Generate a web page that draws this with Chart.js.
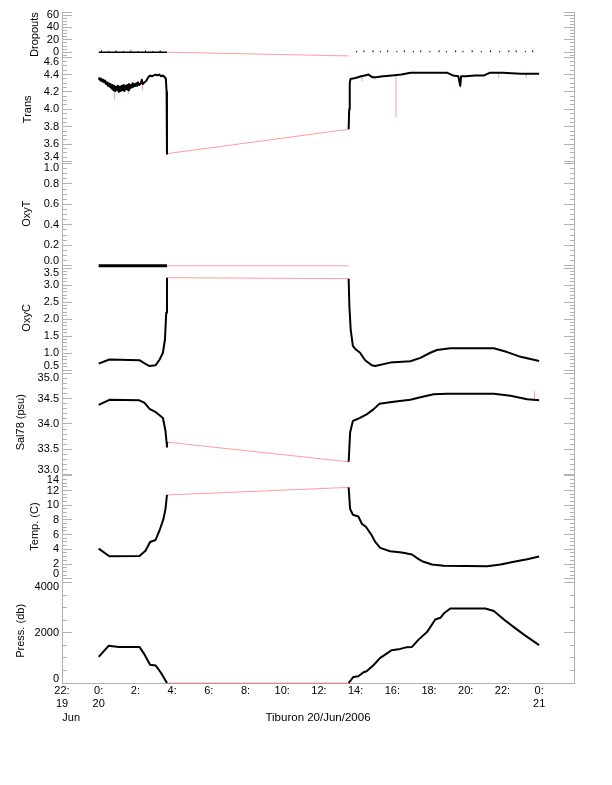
<!DOCTYPE html>
<html>
<head>
<meta charset="utf-8">
<script src="https://cdn.jsdelivr.net/npm/chart.js@4.4.1/dist/chart.umd.min.js"></script>
<style>
  html, body { margin: 0; padding: 0; background: #fff; }
  canvas { display: block; }
</style>
</head>
<body>
<canvas id="c" width="612" height="785"></canvas>
<script>
// time is in hours since 20/Jun/2006 00:00
var xTickHours = [-2, 0, 2, 4, 6, 8, 10, 12, 14, 16, 18, 20, 22, 24];
var xTickLabels = [['22:', '19', '      Jun'], ['0:', '20'], '2:', '4:', '6:', '8:', '10:', '12:',
                   '14:', '16:', '18:', '20:', '22:', ['0:', '21']];

// gap in the record, bridged by the red raw line
var gapHours = [3.72, 13.62];

// Dropouts
var dropHours = [0, 3.72, 13.62, 24.0];
var dropCounts = [0, 0, 0, 0];
var dropSpikeHours = [0.15, 0.55, 0.95, 1.35, 1.75, 2.15, 2.55, 2.95, 3.35,
                      14.05, 14.45, 14.95, 15.35, 15.75, 16.25, 16.65, 17.15, 17.55, 18.05,
                      18.55, 18.95, 19.45, 19.85, 20.35, 20.85, 21.35, 21.85, 22.35, 22.75,
                      23.25, 23.65];
var dropSpikeCounts = [3, 2, 3, 2, 3, 2, 3, 2, 3,
                       2, 3, 3, 2, 3, 2, 3, 2, 3, 2,
                       3, 2, 3, 2, 3, 2, 3, 2, 3, 3,
                       2, 3];
var dropGap = [0, -6];

// Trans
var transHours = [0.00, 0.05, 0.10, 0.15, 0.20, 0.25, 0.30, 0.35, 0.40, 0.45,
                  0.50, 0.55, 0.60, 0.65, 0.70, 0.75, 0.80, 0.85, 0.90, 0.95,
                  1.00, 1.05, 1.10, 1.15, 1.20, 1.25, 1.30, 1.35, 1.40, 1.45,
                  1.50, 1.55, 1.60, 1.65, 1.70, 1.75, 1.80, 1.85, 1.90, 1.95,
                  2.00, 2.05, 2.10, 2.15, 2.20, 2.30, 2.35, 2.40, 2.50, 2.60,
                  2.70, 2.80, 2.90, 3.00, 3.10, 3.20, 3.30, 3.40, 3.50, 3.60,
                  3.66, 3.70, 3.72, 13.62, 13.65, 13.68, 13.72, 14.00, 14.30, 14.50,
                  14.70, 14.90, 15.10, 15.50, 16.00, 16.50, 17.00, 18.00, 19.00, 19.30,
                  19.60, 19.70, 19.75, 20.00, 20.50, 21.00, 21.30, 22.00, 23.00, 24.00];
var transValues = [4.34, 4.36, 4.33, 4.35, 4.32, 4.34, 4.31, 4.33, 4.29, 4.31,
                   4.27, 4.30, 4.26, 4.29, 4.24, 4.28, 4.22, 4.27, 4.21, 4.26,
                   4.22, 4.27, 4.20, 4.26, 4.21, 4.27, 4.22, 4.28, 4.21, 4.27,
                   4.23, 4.28, 4.22, 4.29, 4.24, 4.28, 4.25, 4.30, 4.26, 4.29,
                   4.27, 4.30, 4.27, 4.31, 4.28, 4.30, 4.34, 4.29, 4.31, 4.33,
                   4.37, 4.39, 4.38, 4.39, 4.40, 4.39, 4.40, 4.38, 4.39, 4.37,
                   4.35, 4.20, 3.49, 3.77, 4.00, 4.30, 4.35, 4.36, 4.38, 4.39,
                   4.40, 4.37, 4.37, 4.38, 4.39, 4.40, 4.42, 4.42, 4.42, 4.39,
                   4.38, 4.27, 4.38, 4.38, 4.39, 4.39, 4.42, 4.42, 4.41, 4.41];
var transSpikeHours = [0.87, 1.62, 2.38, 14.35, 15.05, 16.20, 19.72, 21.80, 23.30];
var transSpikeLow = [4.11, 4.18, 4.22, 4.32, 4.34, 3.91, 4.24, 4.36, 4.36];
var transSpikeHigh = [4.26, 4.28, 4.30, 4.38, 4.38, 4.39, 4.38, 4.41, 4.41];
var transGap = [3.49, 3.77];

// OxyT
var oxytHours = [0, 3.72, 13.62, 24.0];
var oxytValues = [0, 0, 0, 0];
var oxytGap = [0, 0];

// OxyC
var oxycHours = [0, 0.58, 2.22, 2.5, 2.77, 3.1, 3.32, 3.5, 3.61, 3.68,
                 3.72, 13.62, 13.66, 13.73, 13.85, 13.97, 14.24, 14.52, 14.88, 15.07,
                 15.88, 16.98, 17.53, 18.07, 18.43, 19.16, 21.53, 22.26, 22.99, 24.0];
var oxycValues = [0.69, 0.81, 0.79, 0.70, 0.62, 0.64, 0.81, 1.01, 1.40, 2.19,
                  3.22, 3.19, 2.38, 1.70, 1.21, 1.13, 1.01, 0.79, 0.64, 0.62,
                  0.72, 0.76, 0.86, 1.01, 1.09, 1.14, 1.14, 1.03, 0.89, 0.77];
var oxycGap = [3.22, 3.19];

// Sal78
var salHours = [0, 0.58, 2.22, 2.5, 2.77, 3.13, 3.5, 3.64, 3.72, 3.73,
                13.62, 13.7, 13.85, 14.24, 14.6, 14.97, 15.3, 16.07, 16.98, 17.53,
                18.25, 18.98, 21.53, 22.44, 23.35, 24.0];
var salValues = [34.38, 34.48, 34.47, 34.42, 34.30, 34.23, 34.12, 33.86, 33.55, 33.64,
                 33.25, 33.83, 34.06, 34.12, 34.19, 34.29, 34.40, 34.44, 34.48, 34.53,
                 34.59, 34.60, 34.60, 34.56, 34.49, 34.47];
var salSpikeHours = [23.75];
var salSpikeLow = [34.47];
var salSpikeHigh = [34.65];
var salGap = [33.64, 33.25];

// Temp
var tempHours = [0, 0.58, 2.22, 2.55, 2.8, 3.1, 3.32, 3.53, 3.64, 3.72,
                 13.62, 13.7, 13.85, 14.15, 14.34, 14.57, 14.88, 15.07, 15.34, 15.88,
                 16.52, 17.07, 17.43, 17.7, 18.16, 18.8, 21.17, 21.9, 22.62, 23.35, 24.0];
var tempValues = [4.1, 3.06, 3.1, 3.8, 5.0, 5.27, 6.6, 8.15, 9.5, 11.4,
                  12.43, 9.5, 8.7, 8.47, 7.48, 7.03, 5.9, 5.0, 4.19, 3.74,
                  3.56, 3.29, 2.66, 2.3, 1.94, 1.76, 1.71, 1.94, 2.3, 2.66, 3.02];
var tempGap = [11.4, 12.43];

// Press
var pressHours = [0, 0.55, 1.09, 2.22, 2.5, 2.8, 3.1, 3.4, 3.72,
                  13.62, 13.88, 14.15, 14.43, 14.6, 14.97, 15.34, 15.61, 15.97, 16.43,
                  16.8, 17.07, 17.43, 17.89, 18.34, 18.62, 18.8, 19.16, 21.07, 21.53,
                  22.08, 22.62, 23.17, 24.0];
var pressValues = [1040, 1490, 1440, 1440, 1130, 730, 700, 400, 0,
                   0, 240, 270, 430, 470, 710, 1000, 1130, 1310, 1360,
                   1430, 1440, 1730, 2030, 2530, 2600, 2770, 2970, 2970, 2870,
                   2530, 2230, 1930, 1510];
var pressGap = [0, 0];

var FONT = "'Liberation Sans', Arial, sans-serif";
var GRAY = '#b2b2b2';
var RED = 'rgba(255, 60, 60, 0.5)';

var panels = [
    {id: 'drop',  title: 'Dropouts',    min: -8,  max: 65,    major: 20,   minor: 5,    dec: 0, weight: 0.433, titleGap: 28},
    {id: 'trans', title: 'Trans',       min: 3.4, max: 4.6,   major: 0.2,  minor: 0.05, dec: 1, weight: 1, titleGap: 21},
    {id: 'oxyt',  title: 'OxyT',        min: 0,   max: 1.02,  major: 0.2,  minor: 0.05, dec: 1, weight: 1, titleGap: 20},
    {id: 'oxyc',  title: 'OxyC',        min: 0.5, max: 3.57,  major: 0.5,  minor: 0.1,  dec: 1, weight: 1, titleGap: 20},
    {id: 'sal',   title: 'Sal78 (psu)', min: 33,  max: 35.07, major: 0.5,  minor: 0.1,  dec: 1, weight: 1, titleGap: 14.5},
    {id: 'temp',  title: 'Temp. (C)',   min: 0,   max: 14.2,  major: 2,    minor: 0.5,  dec: 0, weight: 1, titleGap: 28},
    {id: 'press', title: 'Press. (db)', min: 0,   max: 4160,  major: 2000, minor: 500,  dec: 0, weight: 1, titleGap: 14.5}
];

function series(hours, values) {
    var pts = [];
    for (var i = 0; i < hours.length; i++) {
        if (i > 0 && hours[i] - hours[i - 1] > 5) {
            pts.push({x: (hours[i] + hours[i - 1]) / 2, y: null});
        }
        pts.push({x: hours[i], y: values[i]});
    }
    return pts;
}

// each spike is its own little sub-path (low -> high), split by a null point
function spikes(hours, lows, highs) {
    var pts = [];
    for (var i = 0; i < hours.length; i++) {
        pts.push({x: hours[i], y: lows[i]});
        pts.push({x: hours[i], y: highs[i]});
        pts.push({x: hours[i], y: null});
    }
    return pts;
}

function tickValues(p) {
    var vals = [p.min, p.max];
    var v = Math.ceil(p.min / p.minor - 1e-9) * p.minor;
    for (; v <= p.max + 1e-9; v += p.minor) {
        vals.push(Math.round(v * 10000) / 10000);
    }
    vals.sort(function (a, b) { return a - b; });
    return vals.filter(function (x, i) { return i == 0 || Math.abs(x - vals[i - 1]) > 1e-6; });
}

function isLabelled(p, v) {
    var r = v / p.major;
    return Math.abs(r - Math.round(r)) < 1e-6;
}

function isLong(p, v) {
    return isLabelled(p, v) || Math.abs(v - p.min) < 1e-6 || Math.abs(v - p.max) < 1e-6;
}

function yAxis(p, side, order) {
    var left = side == 'left';
    return {
        type: 'linear',
        position: side,
        stack: side,
        stackWeight: p.weight,
        weight: order,
        min: p.min,
        max: p.max,
        afterBuildTicks: function (scale) {
            scale.ticks = tickValues(p).map(function (v) { return {value: v}; });
        },
        afterFit: function (scale) {
            scale.width = left ? 62 : 0;
            // labels may hang over the panel edges, don't let them shrink the plot
            scale.paddingTop = 0;
            scale.paddingBottom = 0;
        },
        border: {display: true, color: GRAY, width: 1},
        grid: {
            drawOnChartArea: false,
            drawTicks: true,
            tickLength: -10,
            tickColor: GRAY,
            tickWidth: 1,
            tickBorderDash: function (ctx) {
                if (!ctx.tick || isLong(p, ctx.tick.value)) {
                    return [];
                }
                return left ? [0, 5, 5, 20] : [5, 20];
            }
        },
        ticks: {
            display: left,
            autoSkip: false,
            padding: 13,
            color: '#000',
            font: {family: FONT, size: 11, lineHeight: '9px'},
            callback: function (value) {
                if (!isLabelled(p, value)) {
                    return '';
                }
                var text = Math.abs(value) < 1e-9 ? (0).toFixed(p.dec) : value.toFixed(p.dec);
                var range = p.max - p.min;
                if (p.max - value < 0.04 * range) {
                    return ['', text];
                }
                if (value - p.min < 0.04 * range) {
                    return [text, ''];
                }
                return text;
            }
        },
        title: {
            display: left,
            text: p.title,
            color: '#000',
            font: {family: FONT, size: 11},
            padding: {top: p.titleGap, bottom: 0}
        }
    };
}

var scales = {
    x: {
        type: 'linear',
        position: 'bottom',
        min: -2,
        max: 25.9,
        afterBuildTicks: function (scale) {
            scale.ticks = xTickHours.map(function (v) { return {value: v}; });
        },
        afterFit: function (scale) {
            scale.height = 102;
            scale.paddingLeft = 0;
            scale.paddingRight = 0;
        },
        border: {display: true, color: GRAY, width: 1},
        grid: {drawOnChartArea: false, drawTicks: false},
        ticks: {
            autoSkip: false,
            maxRotation: 0,
            padding: 1,
            color: '#000',
            font: {family: FONT, size: 11, lineHeight: '13.5px'},
            callback: function (value) {
                return xTickLabels[xTickHours.indexOf(value)];
            }
        },
        title: {
            display: true,
            text: 'Tiburon 20/Jun/2006',
            color: '#000',
            font: {family: FONT, size: 11.5},
            padding: {top: 0, bottom: 60}
        }
    }
};

panels.forEach(function (p, i) {
    // left boxes are laid out by descending weight, right ones by ascending weight
    scales[p.id] = yAxis(p, 'left', panels.length - i);
    scales[p.id + 'R'] = yAxis(p, 'right', i + 1);
});

function blackLine(axis, data, width) {
    return {data: data, xAxisID: 'x', yAxisID: axis, borderColor: '#000', borderWidth: width,
            pointRadius: 0, order: 0, clip: 3, spanGaps: false};
}

function redLine(axis, data) {
    return {data: data, xAxisID: 'x', yAxisID: axis, borderColor: RED, borderWidth: 1,
            pointRadius: 0, order: 1, clip: 3, spanGaps: false};
}

function gapLine(values) {
    return [{x: gapHours[0], y: values[0]}, {x: gapHours[1], y: values[1]}];
}

// dropouts: plain base line plus separate spikes; the long "dash" makes
// Chart.js use its simple moveTo/lineTo path, with no zero-length pieces
var zeros = dropSpikeHours.map(function () { return 0; });
var dropBase = blackLine('drop', series(dropHours, dropCounts), 1.5);
dropBase.borderDash = [2000, 1];
var dropTicks = blackLine('drop', spikes(dropSpikeHours, zeros, dropSpikeCounts), 1);
dropTicks.borderDash = [2000, 1];

var datasets = [
    dropBase,
    dropTicks,
    redLine('drop', gapLine(dropGap)),

    blackLine('trans', series(transHours, transValues), 2),
    redLine('trans', spikes(transSpikeHours, transSpikeLow, transSpikeHigh)),
    redLine('trans', gapLine(transGap)),

    blackLine('oxyt', series(oxytHours, oxytValues), 3),
    redLine('oxyt', gapLine(oxytGap)),

    blackLine('oxyc', series(oxycHours, oxycValues), 2),
    redLine('oxyc', gapLine(oxycGap)),

    blackLine('sal', series(salHours, salValues), 2),
    redLine('sal', spikes(salSpikeHours, salSpikeLow, salSpikeHigh)),
    redLine('sal', gapLine(salGap)),

    blackLine('temp', series(tempHours, tempValues), 2),
    redLine('temp', gapLine(tempGap)),

    blackLine('press', series(pressHours, pressValues), 2),
    redLine('press', gapLine(pressGap))
];

new Chart(document.getElementById('c'), {
    type: 'line',
    data: {datasets: datasets},
    options: {
        responsive: false,
        animation: false,
        layout: {padding: {top: 12, right: 38, bottom: 0, left: 0}},
        plugins: {legend: {display: false}, tooltip: {enabled: false}},
        elements: {point: {radius: 0}, line: {tension: 0, borderJoinStyle: 'round'}},
        scales: scales
    }
});
</script>
</body>
</html>
